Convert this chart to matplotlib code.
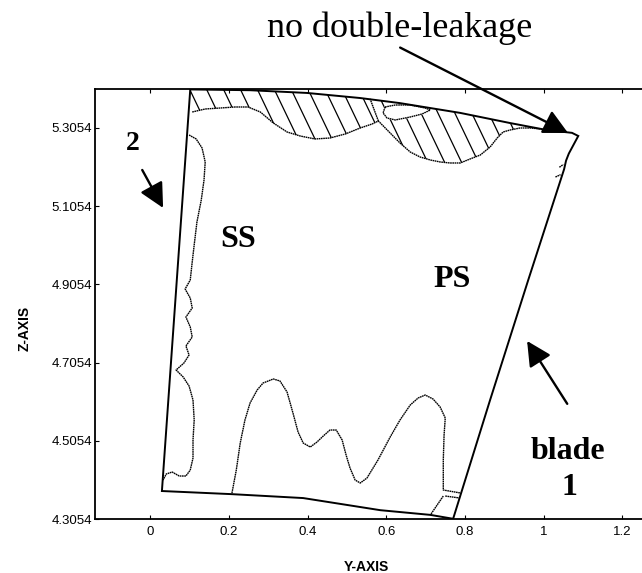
import numpy as np
import matplotlib
matplotlib.use("Agg")
import matplotlib.pyplot as plt
from matplotlib.patches import Polygon

# ---- blade outline (Y, Z), traversed clockwise from the top-left corner ----
blade_y = [0.102, 0.254, 0.399, 0.534, 0.635, 0.788, 0.915, 1.009, 1.072, 1.088,
           1.080, 1.064, 1.057, 1.052, 0.961, 0.864, 0.770,
           0.712, 0.585, 0.389, 0.208, 0.030]
blade_z = [5.404, 5.402, 5.395, 5.382, 5.369, 5.344, 5.318, 5.300, 5.293, 5.285,
           5.270, 5.240, 5.222, 5.200, 4.917, 4.610, 4.306,
           4.316, 4.328, 4.359, 4.369, 4.377]

# ---- suction-side contour near the leading edge ----
ss_y = [0.099, 0.117, 0.132, 0.140, 0.137, 0.130, 0.119, 0.112, 0.107, 0.102,
        0.089, 0.102, 0.107, 0.091, 0.102, 0.107, 0.091, 0.099, 0.086, 0.066,
        0.084, 0.099, 0.109, 0.112, 0.109, 0.109, 0.102, 0.091, 0.074, 0.056,
        0.041, 0.033]
ss_z = [5.2875, 5.2773, 5.2543, 5.2185, 5.1724, 5.1213, 5.0650, 5.0062, 4.9627, 4.9167,
        4.8936, 4.8706, 4.8451, 4.8220, 4.7965, 4.7709, 4.7479, 4.7248, 4.7044, 4.6865,
        4.6686, 4.6456, 4.6097, 4.5586, 4.5074, 4.4614, 4.4307, 4.4154, 4.4154, 4.4256,
        4.4205, 4.4051]

# ---- wavy contour above the hub ----
hub_y = [0.208, 0.219, 0.229, 0.241, 0.254, 0.272, 0.287, 0.313, 0.330, 0.348,
         0.363, 0.376, 0.389, 0.407, 0.424, 0.440, 0.457, 0.473, 0.488, 0.498,
         0.508, 0.521, 0.534, 0.551, 0.579, 0.610, 0.635, 0.661, 0.681, 0.699,
         0.719, 0.737, 0.750, 0.747, 0.745, 0.745, 0.789]
hub_z = [4.3719, 4.4307, 4.4998, 4.5586, 4.6021, 4.6353, 4.6532, 4.6635, 4.6584, 4.6302,
         4.5765, 4.5279, 4.4998, 4.4895, 4.5023, 4.5177, 4.5330, 4.5330, 4.5074, 4.4691,
         4.4358, 4.4051, 4.3975, 4.4102, 4.4563, 4.5151, 4.5586, 4.5970, 4.6149, 4.6225,
         4.6123, 4.5918, 4.5637, 4.5202, 4.4563, 4.3796, 4.3719]

# short contour pieces at the hub trailing-edge corner
corner_a_y = [0.750, 0.787]
corner_a_z = [4.3642, 4.3591]
corner_b_y = [0.745, 0.712]
corner_b_z = [4.3642, 4.3156]

# ---- lower boundary of the leakage zone under the tip (hatched) ----
tip_y = [0.107, 0.140, 0.178, 0.216, 0.249, 0.280, 0.313, 0.348, 0.381, 0.419,
         0.457, 0.496, 0.534, 0.564, 0.580, 0.610, 0.635, 0.661, 0.686, 0.712,
         0.737, 0.762, 0.788, 0.813, 0.839, 0.864, 0.882, 0.897, 0.915, 0.940,
         0.966, 0.991]
tip_z = [5.3463, 5.3540, 5.3565, 5.3591, 5.3591, 5.3463, 5.3182, 5.2952, 5.2850, 5.2773,
         5.2798, 5.2901, 5.3054, 5.3156, 5.3233, 5.2926, 5.2670, 5.2440, 5.2312, 5.2236,
         5.2185, 5.2159, 5.2159, 5.2261, 5.2363, 5.2568, 5.2798, 5.2952, 5.3003, 5.3054,
         5.3054, 5.3030]

# saddle branch from the tip boundary up to the casing line
saddle_y = [0.580, 0.559]
saddle_z = [5.3233, 5.380]

# small island inside the hatched zone
island_y = [0.597, 0.623, 0.661, 0.699, 0.712, 0.691, 0.661, 0.623, 0.602, 0.592]
island_z = [5.3591, 5.3642, 5.3642, 5.3565, 5.3514, 5.3412, 5.3335, 5.3259, 5.3310, 5.3438]

# tiny contour stubs along the pressure side near the tip
stub_y = [[1.040, 1.050], [1.030, 1.043]]
stub_z = [[5.205, 5.212], [5.180, 5.186]]

# ---- axes ----
y_ticks = [0, 0.2, 0.4, 0.6, 0.8, 1.0, 1.2]
y_tick_labels = ["0", "0.2", "0.4", "0.6", "0.8", "1", "1.2"]
z_ticks = [4.3054, 4.5054, 4.7054, 4.9054, 5.1054, 5.3054]
z_tick_labels = ["4.3054", "4.5054", "4.7054", "4.9054", "5.1054", "5.3054"]

serif = ["Liberation Serif", "DejaVu Serif"]
sans = ["Liberation Sans", "DejaVu Sans"]

fig = plt.figure(figsize=(6.42, 5.73), dpi=100)
ax = fig.add_axes([0.148, 0.0942, 0.86, 0.7504])
ax.set_xlim(-0.14, 1.263)
ax.set_ylim(4.3054, 5.405)

for side in ["left", "bottom", "top", "right"]:
    ax.spines[side].set_linewidth(1.3)

ax.set_xticks(y_ticks)
ax.set_xticklabels(y_tick_labels, fontfamily=sans, fontsize=9.5)
ax.set_yticks(z_ticks)
ax.set_yticklabels(z_tick_labels, fontfamily=sans, fontsize=9.5)
ax.tick_params(direction="in", length=3, width=0.8, top=True, right=True)
ax.tick_params(axis="x", pad=5)
ax.tick_params(axis="y", pad=2)

ax.set_xlabel("Y-AXIS", fontfamily=sans, fontsize=10, fontweight="bold")
ax.set_ylabel("Z-AXIS", fontfamily=sans, fontsize=10, fontweight="bold")
ax.xaxis.set_label_coords(0.491, -0.095)
ax.yaxis.set_label_coords(-0.114, 0.444)

# blade outline
ax.add_patch(Polygon(np.column_stack([blade_y, blade_z]), closed=True,
                     fill=False, edgecolor="black", lw=1.4, zorder=3))

# hatched leakage zone: casing line on top, tip boundary underneath
casing = np.column_stack([blade_y[:7], blade_z[:7]])
zone = np.vstack([casing, np.column_stack([tip_y, tip_z])[::-1]])
zone_patch = Polygon(zone, closed=True, fill=False, edgecolor="none")
ax.add_patch(zone_patch)
slope = -2.1
for x0 in np.arange(0.05, 1.15, 0.043):
    zz = np.array([5.42, 5.15])
    yy = x0 + (zz - 5.42) / slope
    ln, = ax.plot(yy, zz, color="black", lw=0.9, zorder=2)
    ln.set_clip_path(zone_patch)

# island stays unhatched
ax.fill(island_y, island_z, color="white", zorder=2.5)

contour_kw = dict(color="black", lw=1.0, ls=(0, (1.2, 0.4)), zorder=3)
ax.plot(tip_y, tip_z, **contour_kw)
ax.plot(saddle_y, saddle_z, **contour_kw)
ax.plot(island_y + island_y[:1], island_z + island_z[:1], **contour_kw)
ax.plot(ss_y, ss_z, **contour_kw)
ax.plot(hub_y, hub_z, **contour_kw)
ax.plot(corner_a_y, corner_a_z, **contour_kw)
ax.plot(corner_b_y, corner_b_z, **contour_kw)
for sy, sz in zip(stub_y, stub_z):
    ax.plot(sy, sz, **contour_kw)

# annotations
bold = dict(fontfamily=serif, fontweight="bold", ha="center", va="center",
            clip_on=False)
ax.text(0.224, 5.019, "SS", fontsize=23, **bold)
ax.text(0.767, 4.919, "PS", fontsize=23, **bold)
ax.text(1.062, 4.479, "blade", fontsize=23, **bold)
ax.text(1.065, 4.385, "1", fontsize=23, **bold)
ax.text(-0.043, 5.2645, "2", fontsize=20, **bold)

arrow_kw = dict(arrowstyle="-|>,head_length=0.75,head_width=0.38",
                color="black", lw=1.7, mutation_scale=20,
                shrinkA=0, shrinkB=0)
ax.annotate("no double-leakage", xy=(1.062, 5.2926), xytext=(0.635, 5.561),
            fontfamily=serif, fontsize=26, ha="center", va="center",
            annotation_clip=False,
            arrowprops=dict(relpos=(0.48, 0.0), **arrow_kw))
ax.annotate("", xy=(0.033, 5.101), xytext=(-0.020, 5.198),
            annotation_clip=False, arrowprops=arrow_kw)
ax.annotate("", xy=(0.958, 4.7607), xytext=(1.060, 4.600),
            annotation_clip=False, arrowprops=arrow_kw)

fig.savefig("out.png", dpi=100)
